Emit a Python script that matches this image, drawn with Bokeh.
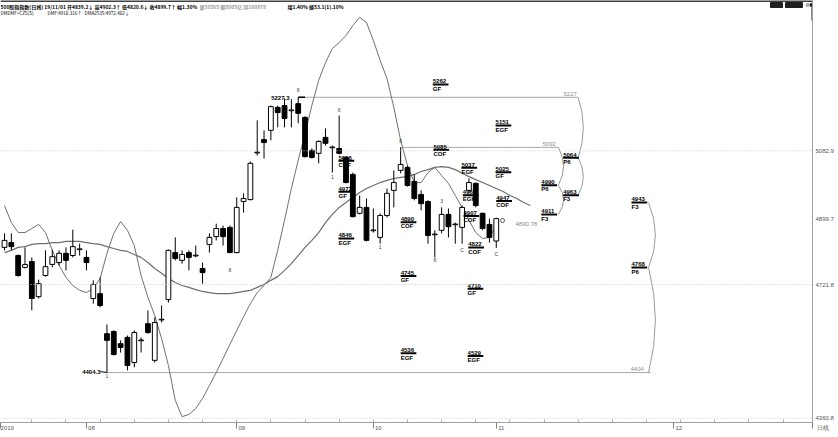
import numpy as np
from bokeh.plotting import figure
from bokeh.models import Range1d, FixedTicker, Span
from bokeh.core.properties import value
from bokeh.embed import file_html
from bokeh.resources import INLINE

# ---------------- data ----------------
# daily candles, index 0 .. 72 (last = 19/11/01)
opens = [4822, 4835, 4800, 4768, 4784, 4689, 4746, 4776, 4781, 4806, 4800, 4816, 4795, 4684, 4697,
         4589, 4595, 4562, 4579, 4511, 4570, 4616, 4517, 4626, 4681, 4808, 4787, 4808, 4799, 4765,
         4830, 4851, 4873, 4876, 4808, 4946, 4951, 5077, 5113, 5138, 5200, 5205, 5191, 5210, 5173,
         5084, 5076, 5119, 5091, 5089, 5065, 5019, 4914, 4930, 4867, 4849, 4908, 4976, 5030, 5038,
         5000, 4965, 4946, 4856, 4868, 4911, 4883, 4876, 4976, 4995, 4914, 4884, 4839.2]
highs = [4860, 4860, 4803, 4822, 4795, 4735, 4814, 4816, 4814, 4822, 4870, 4832, 4814, 4733, 4741,
         4614, 4598, 4571, 4584, 4598, 4579, 4652, 4633, 4665, 4816, 4849, 4814, 4814, 4827, 4781,
         4860, 4886, 4881, 4881, 4957, 4968, 5054, 5165, 5138, 5205, 5205, 5224, 5222, 5227.3, 5176,
         5089, 5111, 5143, 5097, 5178, 5067, 5024, 4962, 4954, 4927, 4914, 4981, 5030, 5092, 5043,
         5019, 4976, 4949, 4868, 4930, 4927, 4889, 4935, 5008, 4997, 4916, 4900, 4902.3]
lows = [4814, 4814, 4743, 4765, 4652, 4684, 4743, 4768, 4773, 4760, 4795, 4800, 4760, 4670, 4660,
        4484, 4530, 4538, 4490, 4498, 4538, 4589, 4511, 4619, 4673, 4787, 4778, 4760, 4795, 4724,
        4808, 4841, 4827, 4806, 4806, 4916, 4949, 5070, 5062, 5111, 5146, 5146, 5146, 5157, 5065,
        5062, 5049, 5097, 5024, 5073, 4995, 4903, 4911, 4838, 4862, 4832, 4903, 4930, 5022, 4986,
        4949, 4922, 4832, 4795, 4860, 4849, 4832, 4832, 4970, 4930, 4868, 4835, 4820.6]
closes = [4841, 4824, 4746, 4776, 4684, 4724, 4770, 4797, 4806, 4787, 4824, 4818, 4781, 4722, 4665,
          4571, 4533, 4552, 4503, 4592, 4572, 4592, 4619, 4628, 4814, 4792, 4803, 4795, 4801, 4754,
          4849, 4873, 4851, 4808, 4930, 4954, 5049, 5079, 5105, 5202, 5186, 5170, 5193, 5184, 5067,
          5065, 5108, 5103, 5093, 5076, 4997, 4905, 4930, 4841, 4869, 4908, 4968, 4997, 5046, 4989,
          4954, 4940, 4854, 4858, 4911, 4878, 4885, 4930, 4997, 4935, 4873, 4849, 4899.7]

# smooth moving-average line (runs 5 days past the last candle)
ma_line = [4808, 4814, 4822, 4824, 4830, 4832, 4832, 4835, 4835, 4838, 4838, 4838, 4835, 4832, 4830,
           4824, 4819, 4814, 4811, 4803, 4795, 4781, 4765, 4752, 4738, 4727, 4719, 4714, 4708, 4703,
           4700, 4697, 4697, 4697, 4700, 4703, 4706, 4714, 4722, 4733, 4743, 4760, 4778, 4800, 4822,
           4841, 4862, 4889, 4911, 4930, 4943, 4957, 4970, 4981, 4989, 4997, 5003, 5008, 5011, 5013,
           5019, 5027, 5032, 5038, 5040, 5038, 5032, 5022, 5013, 5005, 4997, 4989, 4981, 4973, 4962,
           4954, 4943, 4935]

# wide oscillating line drawn on the price scale
osc_line = [4935, 4889, 4862, 4862, 4873, 4884, 4862, 4814, 4773, 4741, 4719, 4706, 4700, 4711, 4738,
            4806, 4860, 4892, 4868, 4827, 4746, 4687, 4638, 4576, 4503, 4409, 4365, 4371, 4387, 4414,
            4449, 4484, 4522, 4560, 4598, 4635, 4670, 4700, 4719, 4741, 4814, 4895, 4981, 5057, 5129,
            5205, 5273, 5321, 5359, 5375, 5394, 5421, 5443, 5429, 5381, 5327, 5278, 5200, 5111, 5043,
            4997, 4997, 5024, 5038, 5016, 4995, 4962, 4930, 4895, 4862, 4846, 4849, 4881]

# target labels: value, code, day index where the label starts
tgt_text = ["5262", "5151", "5085", "5037", "5025", "4947", "4963", "4907", "4890", "4822",
            "5056", "4972", "4846", "4745", "4710", "4536", "4529",
            "4990", "4911", "5064", "4963", "4943", "4768"]
tgt_code = ["GF", "EGF", "COF", "EGF", "GF", "COF", "EGF", "COF", "COF", "COF",
            "COF", "GF", "EGF", "GF", "GF", "EGF", "EGF",
            "P6", "F3", "P6", "F3", "F3", "P6"]
tgt_day = [62.7, 71.9, 62.8, 66.9, 71.9, 72.0, 67.1, 67.2, 58.0, 67.9,
           48.9, 48.9, 48.9, 58.0, 67.8, 58.0, 67.8,
           78.6, 78.6, 81.8, 81.8, 91.8, 91.8]

# reference level lines: label, start day, end day, price
lvl_text = ["5227", "5092", "4404"]
lvl_start = [43, 58, 15]
lvl_end = [84.0, 81.1, 94.6]
lvl_price = [highs[43], highs[58], lows[15]]

# bracket arcs: day index, upper price, lower price
arc_day = [84.0, 84.0, 81.1, 81.1, 94.3, 94.3]
arc_top = [5227, 5064, 5092, 4990, 4943, 4768]
arc_bot = [5064, 4963, 4990, 4911, 4768, lows[15]]

# small wave markers: day, price, text
mk_day = [43, 49, 48, 55, 58, 63, 64, 67, 72, 15, 33]
mk_price = [5248, 5192, 5011, 4822, 5108, 4789, 4946, 4816, 4805, 4476, 4760]
mk_text = ["8", "6", "1", "1", "8", "8", "3", "C", "C", "1", "8"]

# header texts
hdr1_text = ["500股指指数(日线) 19/11/01 开4839.2↓ 高4902.3↑ 低4820.6↓ 收4899.7↑ 幅1.30%",
             "量50565 额5005亿 持160878", "增1.40% 换53.1(1).10%"]
hdr1_gray = [False, True, False]
hdr2_text = ["DMDMF+CZS(S)", "DMF:4910.316↑", "DMA2535:4972.402↓"]

# axes
ytick_vals = [4360.8, 4721.8, 4899.7, 5082.9]
month_labels = ["2019", "08", "09", "10", "11", "12"]
month_pos = [-0.55, 12, 34, 54, 72, 98]
period_label = "日线"

# ---------------- layout helpers ----------------
PXX = 6.83          # px per day
PXY = 2.7           # price per px
Y_TOP = 5488.6
FRAME_W, FRAME_H = 812, 422


def fx(px):
    return (px - 4) / PXX


def fy(py):
    return Y_TOP - py * PXY


p = figure(width=838, height=437, output_backend="svg", toolbar_location=None,
           x_range=Range1d(fx(0), fx(FRAME_W)), y_range=Range1d(fy(FRAME_H), Y_TOP),
           y_axis_location="right", min_border_left=0, min_border_top=0,
           min_border_right=26, min_border_bottom=15,
           background_fill_color="white", border_fill_color="white",
           outline_line_color=None)
p.xgrid.visible = False
p.ygrid.visible = False

# right price axis
ya = p.yaxis[0]
ya.ticker = FixedTicker(ticks=ytick_vals)
ya.major_label_overrides = {v: f"{v:.1f}" for v in ytick_vals}
ya.major_tick_out = 0
ya.major_tick_in = 0
ya.minor_tick_out = 0
ya.minor_tick_in = 0
ya.axis_line_color = "#a0a0a0"
ya.major_label_standoff = 3
ya.major_label_text_font = "Liberation Sans"
ya.major_label_text_font_size = "6px"
ya.major_label_text_color = "#555555"

# bottom date axis: labels padded with no-break spaces so they start just right of the tick
NB = "\u00a0"
x_end = fx(FRAME_W)
xt = month_pos + [x_end]
xlab = {month_pos[0]: month_labels[0]}
for v, m in zip(month_pos[1:], month_labels[1:]):
    xlab[v] = NB * (2 * len(m) + 2) + m
xlab[x_end] = NB * 13 + period_label
xa = p.xaxis[0]
xa.ticker = FixedTicker(ticks=xt, minor_ticks=list(range(4, 118, 5)))
xa.major_label_overrides = xlab
xa.major_tick_out = 6
xa.major_tick_in = 0
xa.minor_tick_in = 3
xa.minor_tick_out = 0
xa.axis_line_color = "#a0a0a0"
xa.major_tick_line_color = "#808080"
xa.minor_tick_line_color = "#b0b0b0"
xa.major_label_text_font = "Liberation Sans"
xa.major_label_text_font_size = "6px"
xa.major_label_text_color = "#555555"
xa.major_label_standoff = -4

# dotted level grid lines
for v in [4360.8, 4721.8, 5082.9]:
    p.add_layout(Span(location=v, dimension="width", line_color="#c8c8c8",
                      line_dash="1 2", line_width=1))
p.add_layout(Span(location=fy(0.5), dimension="width", line_color="#404040", line_width=2))

# reference level lines
p.segment(x0=lvl_start, x1=lvl_end, y0=lvl_price, y1=lvl_price, line_color="#a8a8a8", line_width=1)
p.text(x=[fx(563), fx(542), fx(630)], y=[v + 1.5 * PXY for v in lvl_price], text=lvl_text,
       text_font=value("Liberation Sans"), text_font_size="6px", text_color="#909090",
       text_baseline="bottom")

# bracket arcs
for d, t, b in zip(arc_day, arc_top, arc_bot):
    bulge = 2.0 if d > 90 else 1.5
    p.quadratic(x0=[d], y0=[t], x1=[d], y1=[b], cx=[d + bulge], cy=[(t + b) / 2],
                line_color="#9a9a9a", line_width=1)

# MA line and oscillator
p.line(x=list(range(len(ma_line))), y=ma_line, line_color="#6e6e6e", line_width=1.2)
p.line(x=list(range(len(osc_line))), y=osc_line, line_color="#707070", line_width=1)

# candles
idx = np.arange(len(opens))
o = np.array(opens)
c = np.array(closes)
up = c >= o
p.segment(x0=idx, x1=idx, y0=lows, y1=highs, line_color="black", line_width=1)
p.vbar(x=idx, width=0.7, top=np.maximum(o, c), bottom=np.minimum(o, c),
       fill_color=["white" if u else "black" for u in up], line_color="black", line_width=1)

# target labels
tv = [float(t) for t in tgt_text]
p.segment(x0=tgt_day, x1=[d + 2.3 for d in tgt_day], y0=tv, y1=tv, line_color="black", line_width=2)
p.text(x=tgt_day, y=[v + 1.2 * PXY for v in tv], text=tgt_text, text_font=value("Liberation Sans"),
       text_font_size="6px", text_font_style="bold", text_color="black", text_baseline="bottom")
p.text(x=tgt_day, y=[v - 1.2 * PXY for v in tv], text=tgt_code, text_font=value("Liberation Sans"),
       text_font_size="6px", text_font_style="bold", text_color="black", text_baseline="top")

# wave markers
p.text(x=mk_day, y=mk_price, text=mk_text, text_font=value("Liberation Sans"), text_font_size="5px",
       text_color="#444444", text_align="center", text_baseline="middle")
p.scatter(x=[fx(502)], y=[fy(220)], size=4, marker="circle", fill_color="white", line_color="#555555")

# extreme value labels
p.text(x=[fx(100)], y=[lows[15] + 1 * PXY], text=["4404.3"], text_font=value("Liberation Sans"),
       text_font_size="6px", text_font_style="bold", text_color="black", text_align="right",
       text_baseline="middle")
p.segment(x0=[fx(100)], x1=[15], y0=[lows[15] + 1 * PXY], y1=[lows[15]], line_color="black", line_width=1)
p.text(x=[fx(289)], y=[highs[43] - 1 * PXY], text=["5227.3"], text_font=value("Liberation Sans"),
       text_font_size="6px", text_font_style="bold", text_color="black", text_align="right",
       text_baseline="middle")
p.segment(x0=[43], x1=[44], y0=[highs[43]], y1=[highs[43]], line_color="black", line_width=1.5)
p.text(x=[fx(515)], y=[fy(223)], text=["4890.78"], text_font=value("Liberation Sans"),
       text_font_size="6px", text_color="#888888", text_baseline="middle")

# header lines
hdr_font = value("Noto Sans CJK SC")
p.text(x=[fx(0), fx(199), fx(287)], y=[fy(5.5)] * 3, text=hdr1_text,
       text_color=["#9a9a9a" if g else "black" for g in hdr1_gray],
       text_font=hdr_font, text_font_size="5px", text_font_style="bold", text_baseline="middle")
p.text(x=[fx(0), fx(47), fx(84)], y=[fy(12.5)] * 3, text=hdr2_text,
       text_font=hdr_font, text_font_size="4.6px", text_color="black", text_baseline="middle")

# top right window buttons
p.quad(left=[fx(770), fx(785)], right=[fx(782), fx(802)], top=[fy(2), fy(2)], bottom=[fy(7), fy(7)],
       fill_color="#202020", line_color="#202020")
p.scatter(x=[fx(807)], y=[fy(4.5)], size=4, marker="circle", fill_color="#aaaaaa", line_color=None)
p.scatter(x=[fx(811)], y=[fy(4.5)], size=4, marker="circle", fill_color="#222222", line_color=None)
p.segment(x0=[fx(811)], x1=[fx(811)], y0=[fy(6)], y1=[fy(20)], line_color="#888888", line_width=1)

html = file_html(p, INLINE)
html = html.replace("<head>", "<head><style>html,body{margin:0;padding:0;overflow:hidden}</style>", 1)
open("out.html", "w").write(html)
